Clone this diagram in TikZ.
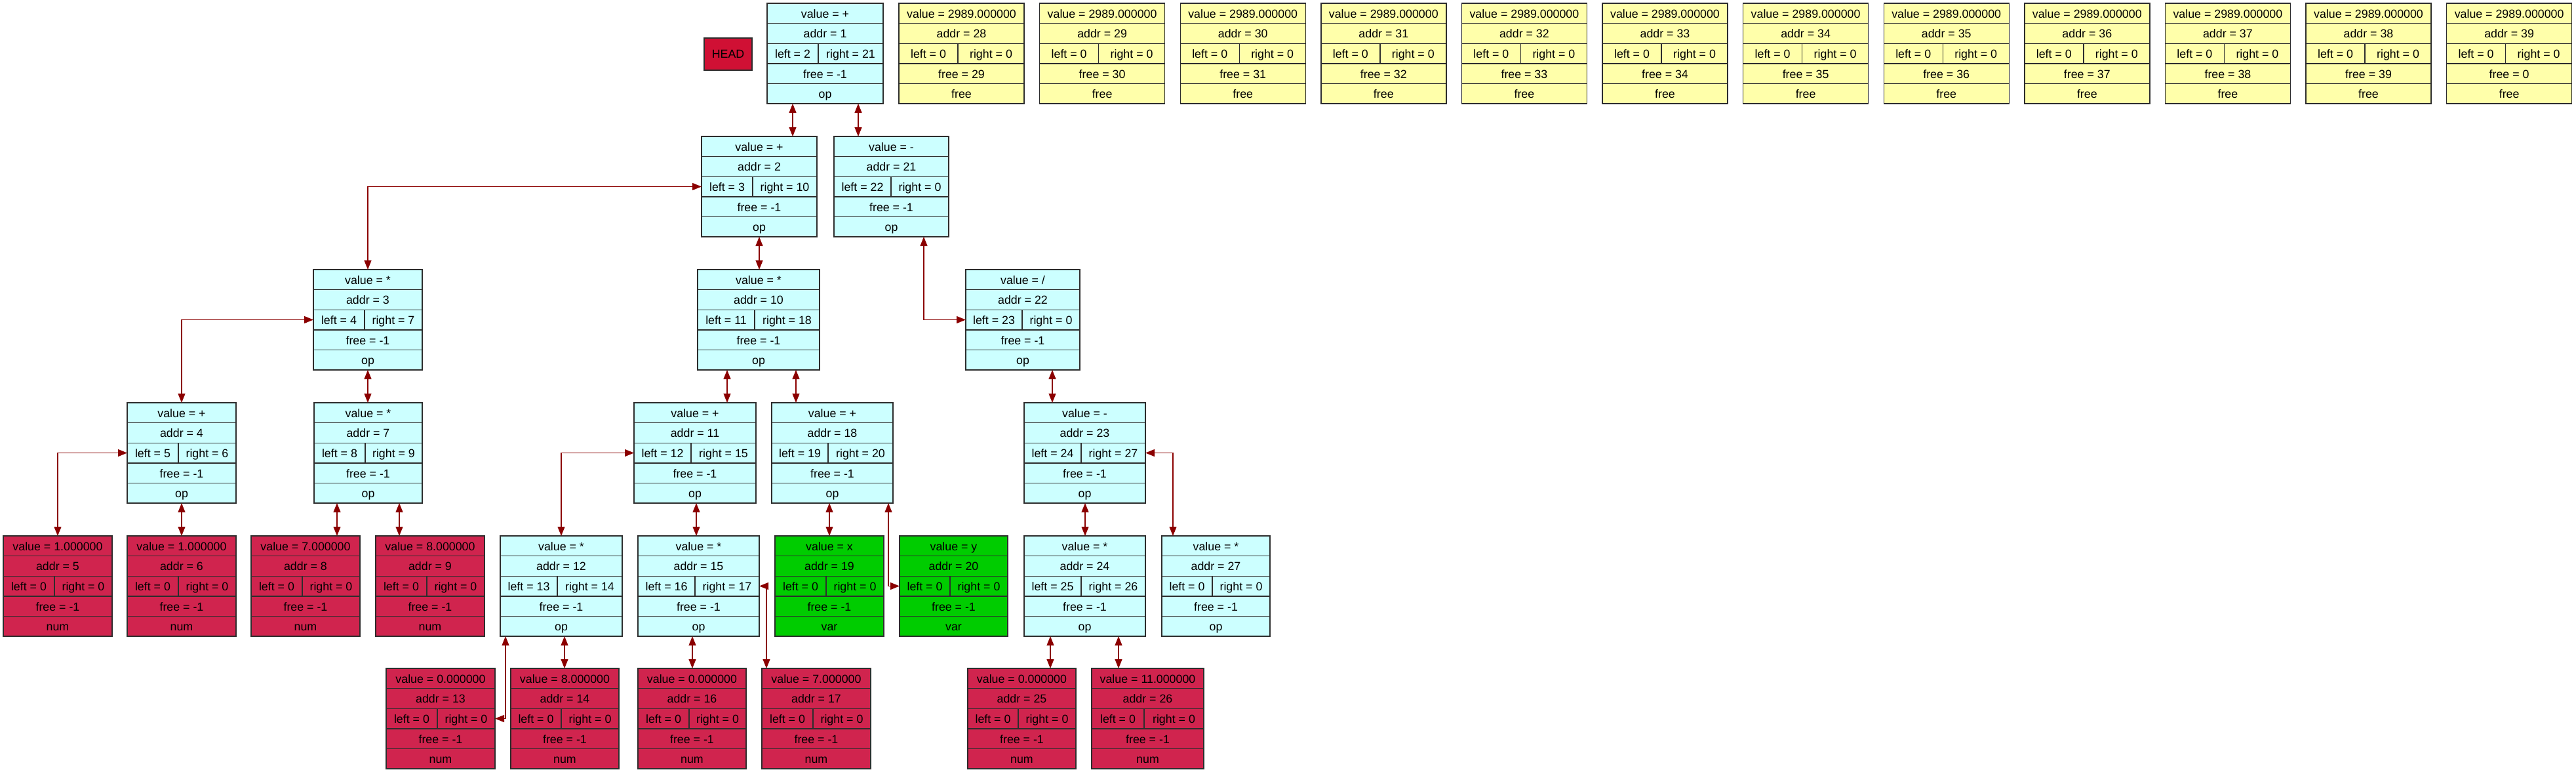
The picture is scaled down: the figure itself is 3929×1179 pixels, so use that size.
\documentclass[tikz,border=0pt]{standalone}
\usepackage{fontspec}
\setmainfont{Liberation Sans}
\usetikzlibrary{arrows.meta}
\definecolor{opfill}{RGB}{204,255,255}
\definecolor{numfill}{RGB}{208,36,78}
\definecolor{varfill}{RGB}{0,204,0}
\definecolor{freefill}{RGB}{255,255,170}
\definecolor{headfill}{RGB}{208,16,52}
\definecolor{boxline}{RGB}{45,45,45}
\definecolor{linkcol}{RGB}{139,0,0}
\tikzset{
  box/.style={draw=boxline, line width=0.7pt, inner sep=0pt, outer sep=0pt},
  opbox/.style={box, fill=opfill},
  numbox/.style={box, fill=numfill},
  varbox/.style={box, fill=varfill},
  freebox/.style={box, fill=freefill},
  headbox/.style={box, fill=headfill, font=\fontsize{8.9pt}{10pt}\selectfont},
  divider/.style={draw=boxline, line width=0.7pt},
  ftext/.style={inner sep=0pt, font=\fontsize{8.9pt}{10pt}\selectfont, text height=0.905em, text depth=0.212em},
  link/.style={draw=linkcol, line width=0.6pt, {Triangle[length=7pt,width=5.5pt]}-{Triangle[length=7pt,width=5.5pt]}, color=linkcol}
}
% name x1 x2 xsplit ytop style
\newcommand\rec[6]{%
  \def\rn{#1}\def\rx{#2}\def\rX{#3}\def\rs{#4}\def\ry{#5}%
  \node[#6, minimum width={(#3-#2)*0.5pt}, minimum height=76.5pt, anchor=north west] (#1) at (#2,#5) {};
  \draw[divider] (#2,#5+30.6) -- (#3,#5+30.6);
  \draw[divider] (#2,#5+61.2) -- (#3,#5+61.2);
  \draw[divider] (#2,#5+91.8) -- (#3,#5+91.8);
  \draw[divider] (#2,#5+122.4) -- (#3,#5+122.4);
  \draw[divider] (#4,#5+61.2) -- (#4,#5+91.8);
}
% value addr left right free type
\newcommand\fields[6]{%
  \node[ftext] (\rn v) at ({(\rx+\rX)/2},\ry+15.3) {value = #1};
  \node[ftext] (\rn a) at ({(\rx+\rX)/2},\ry+45.9) {addr = #2};
  \node[ftext] (\rn l) at ({(\rx+\rs)/2},\ry+76.5) {left = #3};
  \node[ftext] (\rn r) at ({(\rs+\rX)/2},\ry+76.5) {right = #4};
  \node[ftext] (\rn f) at ({(\rx+\rX)/2},\ry+107.1) {free = #5};
  \node[ftext] (\rn t) at ({(\rx+\rX)/2},\ry+137.7) {#6};
}
\newcommand\vlink[3]{\draw[link] (#1.south -| #3,0) -- (#2.north -| #3,0);}
\begin{document}
\begin{tikzpicture}[x=0.5pt, y=-0.5pt]
\useasboundingbox[fill=white] (0,0) rectangle (3929,1179);

\node[headbox, minimum width=36.5pt, minimum height=24.5pt, anchor=north west] (head) at (1074,58) {HEAD};

\rec{n1}{1170}{1347}{1248}{5}{opbox}\fields{+}{1}{2}{21}{-1}{op}
\rec{n2}{1070}{1246}{1148}{208}{opbox}\fields{+}{2}{3}{10}{-1}{op}
\rec{n21}{1272}{1447}{1359}{208}{opbox}\fields{-}{21}{22}{0}{-1}{op}
\rec{n3}{478}{644}{556}{411}{opbox}\fields{*}{3}{4}{7}{-1}{op}
\rec{n10}{1064}{1250}{1151}{411}{opbox}\fields{*}{10}{11}{18}{-1}{op}
\rec{n22}{1473}{1647}{1559}{411}{opbox}\fields{/}{22}{23}{0}{-1}{op}
\rec{n4}{194}{360}{272}{614}{opbox}\fields{+}{4}{5}{6}{-1}{op}
\rec{n7}{479}{644}{557}{614}{opbox}\fields{*}{7}{8}{9}{-1}{op}
\rec{n11}{967}{1153}{1054}{614}{opbox}\fields{+}{11}{12}{15}{-1}{op}
\rec{n18}{1177}{1362}{1263}{614}{opbox}\fields{+}{18}{19}{20}{-1}{op}
\rec{n23}{1562}{1747}{1649}{614}{opbox}\fields{-}{23}{24}{27}{-1}{op}
\rec{n5}{5}{171}{83}{817}{numbox}\fields{1.000000}{5}{0}{0}{-1}{num}
\rec{n6}{194}{360}{272}{817}{numbox}\fields{1.000000}{6}{0}{0}{-1}{num}
\rec{n8}{383}{549}{461}{817}{numbox}\fields{7.000000}{8}{0}{0}{-1}{num}
\rec{n9}{573}{739}{651}{817}{numbox}\fields{8.000000}{9}{0}{0}{-1}{num}
\rec{n12}{763}{949}{850}{817}{opbox}\fields{*}{12}{13}{14}{-1}{op}
\rec{n15}{973}{1158}{1060}{817}{opbox}\fields{*}{15}{16}{17}{-1}{op}
\rec{n19}{1182}{1348}{1260}{817}{varbox}\fields{x}{19}{0}{0}{-1}{var}
\rec{n20}{1372}{1537}{1449}{817}{varbox}\fields{y}{20}{0}{0}{-1}{var}
\rec{n24}{1562}{1747}{1649}{817}{opbox}\fields{*}{24}{25}{26}{-1}{op}
\rec{n27}{1772}{1937}{1849}{817}{opbox}\fields{*}{27}{0}{0}{-1}{op}
\rec{n13}{589}{755}{667}{1019}{numbox}\fields{0.000000}{13}{0}{0}{-1}{num}
\rec{n14}{779}{944}{856}{1019}{numbox}\fields{8.000000}{14}{0}{0}{-1}{num}
\rec{n16}{973}{1138}{1051}{1019}{numbox}\fields{0.000000}{16}{0}{0}{-1}{num}
\rec{n17}{1162}{1328}{1240}{1019}{numbox}\fields{7.000000}{17}{0}{0}{-1}{num}
\rec{n25}{1476}{1641}{1553}{1019}{numbox}\fields{0.000000}{25}{0}{0}{-1}{num}
\rec{n26}{1665}{1836}{1745}{1019}{numbox}\fields{11.000000}{26}{0}{0}{-1}{num}

\foreach \k in {0,...,11}{
  \pgfmathtruncatemacro\ad{28+\k}
  \pgfmathtruncatemacro\fr{\k<11 ? 29+\k : 0}
  \pgfmathsetmacro\xa{1371+214.6*\k}
  \pgfmathsetmacro\xb{\xa+191}
  \pgfmathsetmacro\xc{\xa+90}
  \rec{f\ad}{\xa}{\xb}{\xc}{5}{freebox}
  \fields{2989.000000}{\ad}{0}{0}{\fr}{free}
}

% straight links
\vlink{n1}{n2}{1209}
\vlink{n1}{n21}{1309}
\vlink{n2}{n10}{1158}
\vlink{n3}{n7}{561}
\vlink{n22}{n23}{1605}
\vlink{n10}{n11}{1109}
\vlink{n10}{n18}{1214}
\vlink{n4}{n6}{277}
\vlink{n7}{n8}{514}
\vlink{n7}{n9}{609}
\vlink{n11}{n15}{1062}
\vlink{n18}{n19}{1265}
\vlink{n23}{n24}{1655}
\vlink{n12}{n14}{861}
\vlink{n15}{n16}{1056}
\vlink{n24}{n25}{1602}
\vlink{n24}{n26}{1706}

% elbow links
\draw[link] (n2.west |- n2l) -| (n3.north);
\draw[link] (n3.west |- n3l) -| (n4.north);
\draw[link] (n4.west |- n4l) -| (n5.north);
\draw[link] (n11.west |- n11l) -| (n12.north);
\draw[link] (n23.east |- n23l) -| (n27.north -| 1789,0);
\draw[link] (n15.east |- n15l) -| (n17.north -| 1169,0);
\draw[link] (n21.south -| 1409,0) |- (n22.west |- n22l);
\draw[link] (n18.south -| 1355,0) |- (n20.west |- n20l);
\draw[link] (n12.south -| 771,0) |- (n13.east |- n13l);
\end{tikzpicture}
\end{document}
